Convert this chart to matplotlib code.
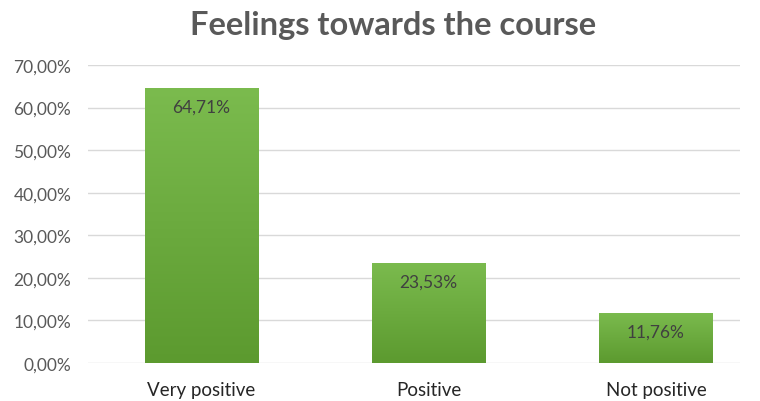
import numpy as np
import matplotlib
matplotlib.use('Agg')
from matplotlib import pyplot as plt
from matplotlib.ticker import FuncFormatter
from matplotlib.colors import LinearSegmentedColormap

categories = ['Very positive', 'Positive', 'Not positive']
values = [64.71, 23.53, 11.76]
yticks = [0, 10, 20, 30, 40, 50, 60, 70]

plt.rcParams['font.family'] = ['Lato', 'DejaVu Sans']

fig = plt.figure(figsize=(7.6, 4.02), dpi=100)
ax = fig.add_axes([0.1158, 0.0945, 0.8579, 0.7413])

x = np.arange(len(categories))
w = 0.5
bars = ax.bar(x, values, width=w, color='#6aab3c', zorder=2)

# vertical gradient on each bar, like the Excel fill
grad = np.linspace(0, 1, 256).reshape(-1, 1)
cmap = LinearSegmentedColormap.from_list('g', ['#5c9a2f', '#7bbb4e'])
for b in bars:
    b.set_facecolor('none')
    im = ax.imshow(grad, cmap=cmap, aspect='auto', origin='lower',
                   extent=[b.get_x(), b.get_x() + b.get_width(), 0, b.get_height()],
                   zorder=2)
    im.set_clip_path(b)

for xi, v in zip(x, values):
    ax.annotate(('%.2f%%' % v).replace('.', ','), (xi, v), xytext=(0, -19),
                textcoords='offset pixels', ha='center', va='center',
                fontsize=12.5, color='#404040')

ax.set_xlim(-0.5, 2.37)
ax.set_ylim(0, 70)
ax.set_yticks(yticks)
ax.yaxis.set_major_formatter(FuncFormatter(lambda v, p: ('%.2f%%' % v).replace('.', ',')))
ax.set_xticks(x)
ax.set_xticklabels(categories)
ax.tick_params(axis='both', length=0, labelsize=12.5, colors='#595959', pad=12)
ax.tick_params(axis='x', pad=13, labelcolor='#262626', labelsize=13.5)
ax.grid(axis='y', color='#d9d9d9', linewidth=1, zorder=0)
for s in ax.spines.values():
    s.set_visible(False)

fig.text(0.517, 0.937, 'Feelings towards the course', ha='center', va='center',
         fontsize=23.5, fontweight='bold', color='#595959')

fig.savefig('out.png', dpi=100)
